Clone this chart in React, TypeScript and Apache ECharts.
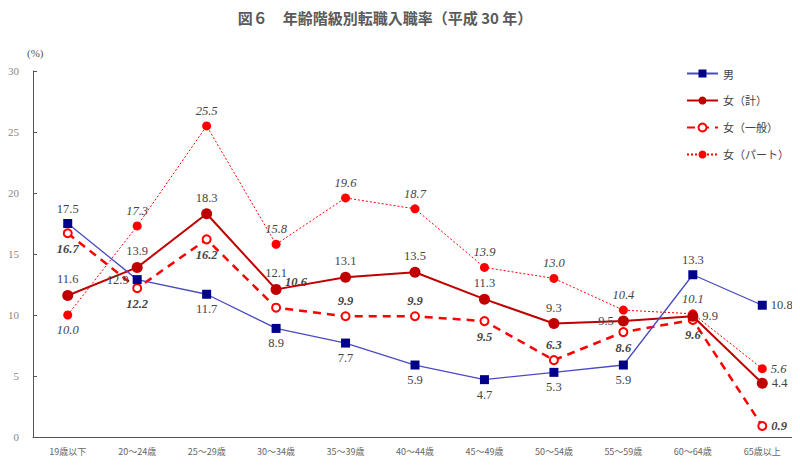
import React, { useEffect, useRef } from "react";
import * as echarts from "echarts";

const categories = ["19歳以下", "20～24歳", "25～29歳", "30～34歳", "35～39歳", "40～44歳", "45～49歳", "50～54歳", "55～59歳", "60～64歳", "65歳以上"];
const seriesNames = ["男", "女（計）", "女（一般）", "女（パート）"];
const men = [17.5, 12.9, 11.7, 8.9, 7.7, 5.9, 4.7, 5.3, 5.9, 13.3, 10.8];
const womenTotal = [11.6, 13.9, 18.3, 12.1, 13.1, 13.5, 11.3, 9.3, 9.5, 9.9, 4.4];
const womenRegular = [16.7, 12.2, 16.2, 10.6, 9.9, 9.9, 9.5, 6.3, 8.6, 9.6, 0.9];
const womenPart = [10.0, 17.3, 25.5, 15.8, 19.6, 18.7, 13.9, 13.0, 10.4, 10.1, 5.6];

// label placements (style, not data)
const menPos = ["top", "left", "bottom", "bottom", "bottom", "bottom", "bottom", "bottom", "bottom", "top", "right"];
const totalPos = ["top", "top", "top", "top", "top", "top", "top", "top", "left", "right", "right"];
const regularPos = ["bottom", "bottom", "bottom", "upright", "top", "top", "bottom", "top", "bottom", "bottom", "right"];
const partPos = ["bottom", "top", "top", "top", "top", "top", "top", "top", "top", "top", "right"];

const labelFont = "'Liberation Serif', 'DejaVu Serif', serif";

function buildData(values: number[], pos: string[], italic: boolean, bold: boolean) {
  return values.map((v, i) => {
    const p = pos[i];
    const label: any = {
      show: true,
      position: p === "upright" ? "right" : p,
      distance: 4,
      formatter: v.toFixed(1),
      color: "#444",
      fontFamily: labelFont,
      fontSize: 12.5,
      fontStyle: italic ? "italic" : "normal",
      fontWeight: bold ? "bold" : "normal",
    };
    if (p === "upright") {
      label.offset = [0, -26];
    }
    return { value: v, label };
  });
}

export default function App() {
  const ref = useRef<HTMLDivElement>(null);
  useEffect(() => {
    if (!ref.current) return;
    const chart = echarts.init(ref.current, null, { renderer: "svg" });
    chart.setOption({
      animation: false,
      backgroundColor: "#fff",
      title: {
        text: "図６　年齢階級別転職入職率（平成 30 年）",
        left: 380,
        textAlign: "center",
        top: 5,
        textStyle: {
          fontFamily: "'Noto Sans CJK JP', sans-serif",
          fontSize: 15,
          fontWeight: "bold",
          color: "#5a5a5a",
        },
      },
      graphic: [
        {
          type: "text",
          left: 27,
          top: 47,
          style: { text: "(%)", fontFamily: labelFont, fontSize: 11, fill: "#555" },
        },
      ],
      legend: {
        orient: "vertical",
        left: 681,
        top: 63,
        itemWidth: 31,
        itemHeight: 10,
        itemGap: 16,
        textStyle: { fontFamily: "'Noto Sans CJK JP', sans-serif", fontSize: 11, color: "#444" },
        data: seriesNames,
      },
      grid: { left: 33, right: 3, top: 71, bottom: 37, containLabel: false },
      xAxis: {
        type: "category",
        data: categories,
        boundaryGap: true,
        axisLine: { lineStyle: { color: "#555", width: 1 } },
        axisTick: { inside: true, length: 4, lineStyle: { color: "#555" } },
        axisLabel: {
          fontFamily: "'Noto Sans CJK JP', sans-serif",
          fontSize: 9,
          color: "#666",
          margin: 10,
          interval: 0,
        },
      },
      yAxis: {
        type: "value",
        min: 0,
        max: 30,
        interval: 5,
        axisLine: { show: true, lineStyle: { color: "#555", width: 1 } },
        axisTick: { show: true, inside: true, length: 4, lineStyle: { color: "#555" } },
        splitLine: { show: false },
        axisLabel: { fontFamily: labelFont, fontSize: 11, color: "#888", margin: 14 },
      },
      series: [
        {
          name: seriesNames[0],
          type: "line",
          data: buildData(men, menPos, false, false),
          symbol: "rect",
          symbolSize: 9,
          itemStyle: { color: "#00008b" },
          lineStyle: { color: "#4a4ac4", width: 1.3 },
          z: 4,
        },
        {
          name: seriesNames[1],
          type: "line",
          data: buildData(womenTotal, totalPos, false, false),
          symbol: "circle",
          symbolSize: 11,
          itemStyle: { color: "#c00000" },
          lineStyle: { color: "#c00000", width: 2 },
          z: 3,
        },
        {
          name: seriesNames[2],
          type: "line",
          data: buildData(womenRegular, regularPos, true, true),
          symbol: "emptyCircle",
          symbolSize: 8,
          itemStyle: { color: "#ff0000", borderWidth: 2, borderColor: "#ff0000" },
          lineStyle: { color: "#ff0000", width: 2.5, type: [8, 6] },
          z: 2,
        },
        {
          name: seriesNames[3],
          type: "line",
          data: buildData(womenPart, partPos, true, false),
          symbol: "circle",
          symbolSize: 9,
          itemStyle: { color: "#ff0000" },
          lineStyle: { color: "#ff0000", width: 1, type: [2, 2] },
          z: 1,
        },
      ],
    });
    return () => chart.dispose();
  }, []);
  return <div ref={ref} style={{ width: 800, height: 474, margin: -8 }} />;
}
